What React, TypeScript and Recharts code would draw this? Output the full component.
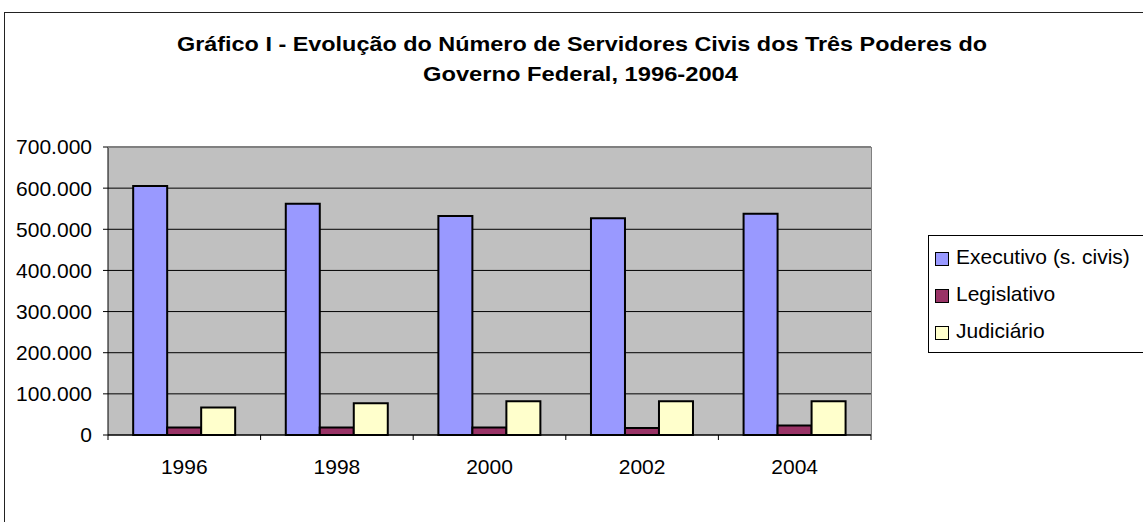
import { BarChart, Bar, XAxis, YAxis, CartesianGrid } from "recharts";

const years = ["1996", "1998", "2000", "2002", "2004"];
const executivo = [605000, 562000, 532000, 527000, 538000];
const legislativo = [18000, 18000, 18000, 17000, 23000];
const judiciario = [67000, 77000, 82000, 82000, 82000];
const yTicks = [0, 100000, 200000, 300000, 400000, 500000, 600000, 700000];

const SERIES = [
  { key: "executivo", name: "Executivo (s. civis)", color: "#9999FF" },
  { key: "legislativo", name: "Legislativo", color: "#993366" },
  { key: "judiciario", name: "Judiciário", color: "#FFFFCC" },
];

const data = years.map((year, i) => ({
  year,
  executivo: executivo[i],
  legislativo: legislativo[i],
  judiciario: judiciario[i],
}));

const W = 1143;
const H = 522;
const PLOT_LEFT = 108;
const PLOT_RIGHT = 871;
const PLOT_TOP = 147;
const PLOT_BOTTOM = 435;
const BAND = (PLOT_RIGHT - PLOT_LEFT) / years.length;
const FONT = "'Liberation Sans', Arial, sans-serif";

function formatThousands(v: number) {
  return String(v).replace(/\B(?=(\d{3})+(?!\d))/g, ".");
}

function YearTick(props: any) {
  const { x, y, payload, index } = props;
  const left = x - BAND / 2;
  return (
    <g>
      <line x1={left} x2={left} y1={y} y2={y + 5} stroke="#000" />
      {index === years.length - 1 && (
        <line x1={left + BAND} x2={left + BAND} y1={y} y2={y + 5} stroke="#000" />
      )}
      <text x={x} y={y + 39} textAnchor="middle" fontSize={21} fontFamily={FONT} fill="#000">
        {payload.value}
      </text>
    </g>
  );
}

// legend drawn as plain html, kept out of recharts so it doesn't eat plot space
function LegendBox() {
  return (
    <div
      style={{
        position: "absolute",
        left: 928,
        top: 235,
        border: "1px solid #000",
        background: "#fff",
        padding: "2.5px 0 2px 6px",
        width: 240,
        fontFamily: FONT,
        fontSize: 21,
        color: "#000",
      }}
    >
      {SERIES.map((s) => (
        <div key={s.key} style={{ height: 37, display: "flex", alignItems: "center" }}>
          <span
            style={{
              display: "inline-block",
              width: 12,
              height: 12,
              background: s.color,
              border: "1px solid #000",
              marginRight: 7,
              marginTop: 4,
            }}
          />
          <span>{s.name}</span>
        </div>
      ))}
    </div>
  );
}

export default function App() {
  return (
    <div
      style={{
        position: "absolute",
        left: 0,
        top: 0,
        width: W,
        height: H,
        overflow: "hidden",
        background: "#fff",
      }}
    >
      <BarChart
        width={W}
        height={H}
        data={data}
        margin={{ top: PLOT_TOP, right: W - PLOT_RIGHT, bottom: H - PLOT_BOTTOM - 40, left: 0 }}
        barCategoryGap="16.5%"
        barGap={0}
      >
        <CartesianGrid vertical={false} stroke="#000" fill="#C0C0C0" fillOpacity={1} />
        <XAxis
          dataKey="year"
          height={40}
          tickSize={0}
          tickMargin={0}
          axisLine={{ stroke: "#000" }}
          tickLine={false}
          tick={<YearTick />}
          interval={0}
        />
        <YAxis
          width={PLOT_LEFT}
          domain={[0, 700000]}
          ticks={yTicks}
          interval={0}
          tickFormatter={formatThousands}
          tickSize={5}
          tickMargin={11}
          axisLine={{ stroke: "#000" }}
          tickLine={{ stroke: "#000" }}
          tick={{ fontSize: 21, fontFamily: FONT, fill: "#000" }}
        />
        {SERIES.map((s) => (
          <Bar
            key={s.key}
            dataKey={s.key}
            name={s.name}
            fill={s.color}
            stroke="#000"
            strokeWidth={2}
            isAnimationActive={false}
          />
        ))}
      </BarChart>
      <LegendBox />
      <svg
        width={W}
        height={H}
        style={{ position: "absolute", left: 0, top: 0, pointerEvents: "none" }}
      >
        <rect x={4.5} y={12.5} width={W + 20} height={H + 20} fill="none" stroke="#222" />
        <line x1={PLOT_LEFT} x2={PLOT_RIGHT} y1={PLOT_TOP + 0.5} y2={PLOT_TOP + 0.5} stroke="#808080" />
        <line x1={PLOT_RIGHT + 0.5} x2={PLOT_RIGHT + 0.5} y1={PLOT_TOP} y2={PLOT_BOTTOM} stroke="#808080" />
        <text
          x={177}
          y={51}
          fontSize={21}
          fontWeight="bold"
          fontFamily={FONT}
          textLength={810}
          lengthAdjust="spacingAndGlyphs"
        >
          Gráfico I - Evolução do Número de Servidores Civis dos Três Poderes do
        </text>
        <text
          x={423}
          y={81}
          fontSize={21}
          fontWeight="bold"
          fontFamily={FONT}
          textLength={315}
          lengthAdjust="spacingAndGlyphs"
        >
          Governo Federal, 1996-2004
        </text>
      </svg>
    </div>
  );
}
